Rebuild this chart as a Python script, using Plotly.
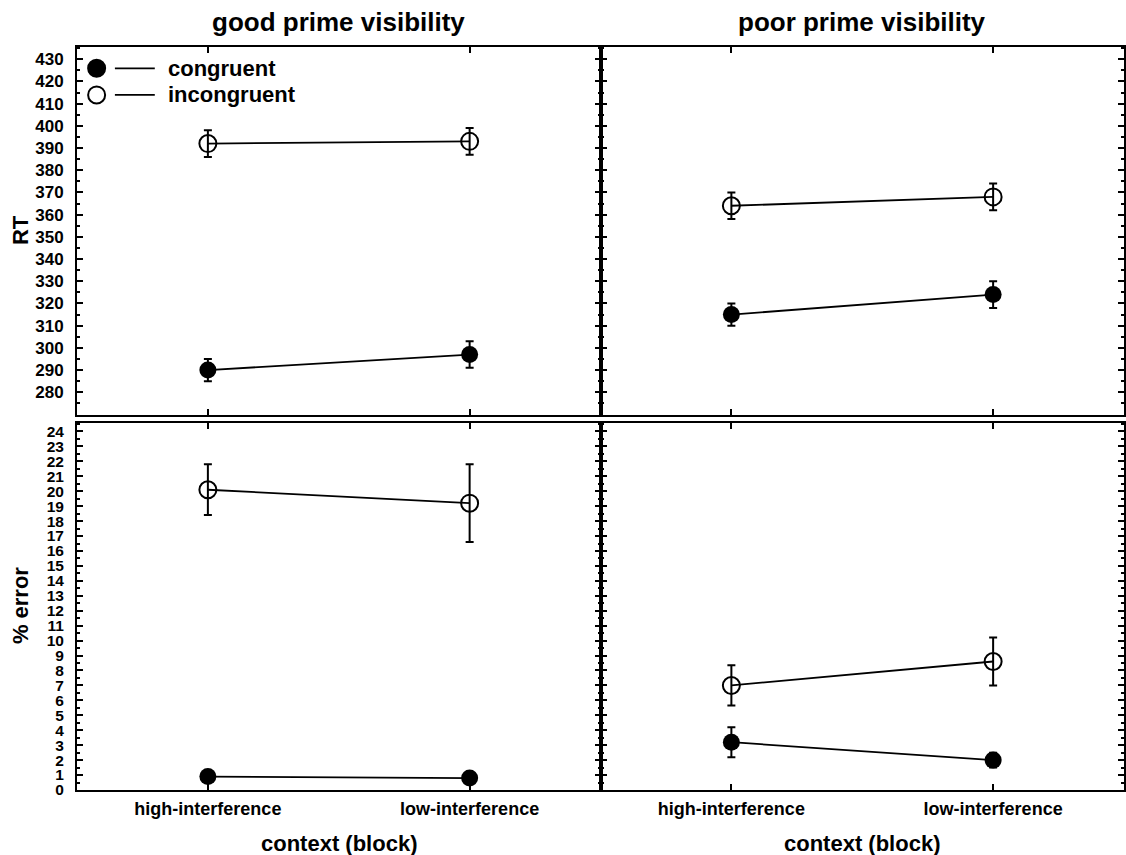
import plotly.graph_objects as go
from plotly.subplots import make_subplots

# ---------------- data ----------------
contexts = ["high-interference", "low-interference"]
panel_titles = ["good prime visibility", "poor prime visibility"]
series_names = ["congruent", "incongruent"]

rt_good_cong = [290, 297]
rt_good_cong_err = [5, 6]
rt_good_incong = [392, 393]
rt_good_incong_err = [6, 6]
rt_poor_cong = [315, 324]
rt_poor_cong_err = [5, 6]
rt_poor_incong = [364, 368]
rt_poor_incong_err = [6, 6]

pe_good_cong = [0.9, 0.8]
pe_good_cong_err = [0.3, 0.3]
pe_good_incong = [20.1, 19.2]
pe_good_incong_err = [1.7, 2.6]
pe_poor_cong = [3.2, 2.0]
pe_poor_cong_err = [1.0, 0.5]
pe_poor_incong = [7.0, 8.6]
pe_poor_incong_err = [1.35, 1.6]

rt_range = [270, 435.5]
rt_ticks = list(range(280, 431, 10))
pe_range = [0, 24.6]
pe_ticks = list(range(0, 25, 1))

# ---------------- figure ----------------
W, H = 1126, 855
ML, MR, MT, MB = 77, 0, 47, 65
plot_h = H - MT - MB
plot_w = W - ML - MR

fig = make_subplots(rows=2, cols=2, horizontal_spacing=0,
                    vertical_spacing=8 / plot_h, shared_xaxes=False)

FONT = "Liberation Sans, Arial, Helvetica, sans-serif"

def add_series(row, col, cong, cong_err, inc, inc_err):
    fig.add_trace(go.Scatter(
        x=contexts, y=cong, mode="lines+markers", name=series_names[0],
        line=dict(color="black", width=1.8),
        marker=dict(symbol="circle", size=17, color="black",
                    line=dict(color="black", width=0)),
        error_y=dict(type="data", array=cong_err, visible=True,
                     color="black", thickness=2, width=4),
        showlegend=False), row=row, col=col)
    fig.add_trace(go.Scatter(
        x=contexts, y=inc, mode="lines+markers", name=series_names[1],
        line=dict(color="black", width=1.8),
        marker=dict(symbol="circle-open", size=17, color="black",
                    line=dict(color="black", width=2)),
        error_y=dict(type="data", array=inc_err, visible=True,
                     color="black", thickness=2, width=4),
        showlegend=False), row=row, col=col)

add_series(1, 1, rt_good_cong, rt_good_cong_err, rt_good_incong, rt_good_incong_err)
add_series(1, 2, rt_poor_cong, rt_poor_cong_err, rt_poor_incong, rt_poor_incong_err)
add_series(2, 1, pe_good_cong, pe_good_cong_err, pe_good_incong, pe_good_incong_err)
add_series(2, 2, pe_poor_cong, pe_poor_cong_err, pe_poor_incong, pe_poor_incong_err)

xtickfont = dict(family=FONT, size=18, color="black", weight="bold")
ytickfont_top = dict(family=FONT, size=17, color="black", weight="bold")
ytickfont_bot = dict(family=FONT, size=15.5, color="black", weight="bold")

for r in (1, 2):
    for c in (1, 2):
        fig.update_xaxes(
            row=r, col=c, type="category", range=[-0.5, 1.5],
            showline=True, linecolor="black", linewidth=2, mirror="ticks",
            ticks="inside", ticklen=6, tickwidth=1.5, tickcolor="black",
            showgrid=False, zeroline=False,
            showticklabels=(r == 2), tickfont=xtickfont,
            ticklabelstandoff=1)
        fig.update_yaxes(
            row=r, col=c,
            range=rt_range if r == 1 else pe_range,
            tickvals=rt_ticks if r == 1 else pe_ticks,
            minor=dict(dtick=5 if r == 1 else 0.5, ticks="inside",
                       ticklen=3, tickwidth=1.5, tickcolor="black"),
            showline=True, linecolor="black", linewidth=2, mirror="ticks",
            ticks="inside", ticklen=6, tickwidth=1.5, tickcolor="black",
            showgrid=False, zeroline=False,
            showticklabels=(c == 1),
            tickfont=ytickfont_top if r == 1 else ytickfont_bot,
            ticklabelstandoff=8)

annos = []
for i, t in enumerate(panel_titles):
    annos.append(dict(text=t, x=0.25 + 0.5 * i, y=(H - MB - 22) / plot_h,
                      xref="paper", yref="paper", showarrow=False,
                      xanchor="center", yanchor="middle",
                      font=dict(family=FONT, size=26, color="black", weight="bold")))
    annos.append(dict(text="context (block)", x=0.25 + 0.5 * i,
                      y=-(843 - (H - MB)) / plot_h,
                      xref="paper", yref="paper", showarrow=False,
                      xanchor="center", yanchor="middle",
                      font=dict(family=FONT, size=22, color="black", weight="bold")))
annos.append(dict(text="RT", x=(20 - ML) / plot_w, y=(H - MB - 230) / plot_h,
                  xref="paper", yref="paper", showarrow=False, textangle=-90,
                  xanchor="center", yanchor="middle",
                  font=dict(family=FONT, size=22, color="black", weight="bold")))
annos.append(dict(text="% error", x=(20 - ML) / plot_w, y=(H - MB - 606) / plot_h,
                  xref="paper", yref="paper", showarrow=False, textangle=-90,
                  xanchor="center", yanchor="middle",
                  font=dict(family=FONT, size=22, color="black", weight="bold")))

# custom legend inside the top-left panel
leg_rows = [0.942, 0.8696]
shapes = []
for i, name in enumerate(series_names):
    yy = leg_rows[i]
    shapes.append(dict(type="circle", xref="x domain", yref="y domain",
                       xsizemode="pixel", ysizemode="pixel",
                       xanchor=0.0375, yanchor=yy,
                       x0=-8.5, x1=8.5, y0=-8.5, y1=8.5,
                       fillcolor="black" if i == 0 else "white",
                       line=dict(color="black", width=2)))
    shapes.append(dict(type="line", xref="x domain", yref="y domain",
                       x0=0.0724, x1=0.1486, y0=yy, y1=yy,
                       line=dict(color="black", width=1.8)))
    annos.append(dict(text=name, xref="x domain", yref="y domain",
                      x=0.1695, y=yy, showarrow=False,
                      xanchor="left", yanchor="middle",
                      font=dict(family=FONT, size=22, color="black", weight="bold")))

fig.update_layout(
    width=W, height=H,
    margin=dict(l=ML, r=MR, t=MT, b=MB),
    plot_bgcolor="white", paper_bgcolor="white",
    annotations=annos, shapes=shapes,
    font=dict(family=FONT, color="black"),
)

fig.write_html("out.html")
